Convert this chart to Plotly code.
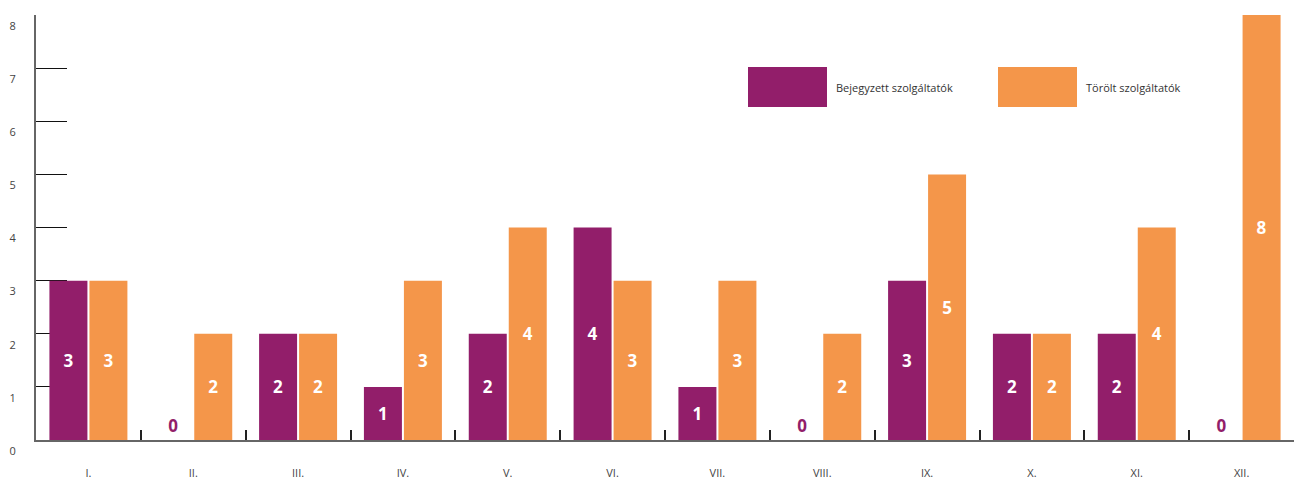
import plotly.graph_objects as go

categories = ["I.", "II.", "III.", "IV.", "V.", "VI.", "VII.", "VIII.", "IX.", "X.", "XI.", "XII."]
bejegyzett = [3, 0, 2, 1, 2, 4, 1, 0, 3, 2, 2, 0]
torolt = [3, 2, 2, 3, 4, 3, 3, 2, 5, 2, 4, 8]
series_names = ["Bejegyzett szolgáltatók", "Törölt szolgáltatók"]
y_ticks = [0, 1, 2, 3, 4, 5, 6, 7, 8]

PURPLE = "#921E6A"
ORANGE = "#F4964A"
FONT = "Open Sans"

def bar(name, vals, color):
    return go.Bar(
        x=categories, y=vals, name=name,
        marker=dict(color=color, line=dict(width=0)),
        text=[str(v) for v in vals],
        textposition=["outside" if v == 0 else "inside" for v in vals],
        insidetextanchor="middle",
        insidetextfont=dict(color="white", size=17, family=FONT, weight="bold"),
        outsidetextfont=dict(color=PURPLE, size=17, family=FONT, weight="bold"),
        textangle=0,
        cliponaxis=False,
        hoverinfo="skip",
        showlegend=False,
    )

fig = go.Figure([bar(series_names[0], bejegyzett, PURPLE), bar(series_names[1], torolt, ORANGE)])

fig.update_layout(
    width=1295, height=480,
    margin=dict(l=36, r=1, t=15, b=40),
    paper_bgcolor="white", plot_bgcolor="white",
    barmode="group", bargap=0.237, bargroupgap=0.05,
    uniformtext=dict(mode=False),
    font=dict(family=FONT, color="#333"),
)
fig.update_xaxes(
    type="category", showgrid=False, showline=True, linecolor="#666", linewidth=2,
    ticks="inside", tickson="boundaries", ticklen=10, tickcolor="#222", tickwidth=1.5,
    tickfont=dict(size=11, color="#444"), ticklabelstandoff=22, layer="below traces",
)
fig.update_yaxes(
    range=[0, 8], tickvals=y_ticks, showgrid=False, zeroline=False,
    showline=True, linecolor="#666", linewidth=2,
    ticks="inside", ticklen=31, tickcolor="#111", tickwidth=1.2,
    tickfont=dict(size=11, color="#444"), ticklabelshift=11, ticklabelstandoff=16,
    layer="below traces",
)

# custom legend
legend_x = [748, 998]
colors = [PURPLE, ORANGE]
W = 1295 - 36 - 1
H = 480 - 15 - 40
for i, (name, col) in enumerate(zip(series_names, colors)):
    x0 = (legend_x[i] - 36) / W
    x1 = (legend_x[i] + 79 - 36) / W
    y1 = 1 - (67 - 15) / H
    y0 = 1 - (107 - 15) / H
    fig.add_shape(type="rect", xref="paper", yref="paper", x0=x0, x1=x1, y0=y0, y1=y1,
                  fillcolor=col, line=dict(width=0))
    fig.add_annotation(xref="paper", yref="paper", x=(legend_x[i] + 86 - 36) / W, y=(y0 + y1) / 2,
                       text=name, showarrow=False, xanchor="left", yanchor="middle",
                       font=dict(size=11, color="#333", family=FONT))

fig.write_html("out.html")
